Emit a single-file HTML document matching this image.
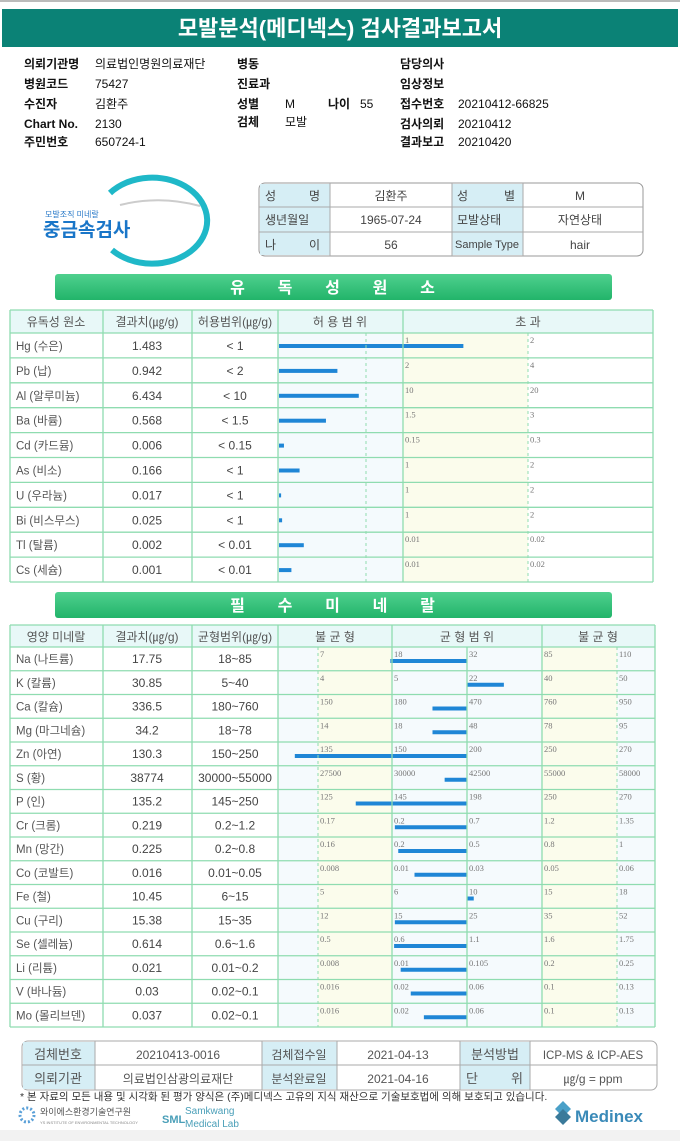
<!DOCTYPE html>
<html><head><meta charset="utf-8">
<style>
html,body{margin:0;padding:0;background:#fff;}
body{width:680px;height:1141px;overflow:hidden;position:relative;font-family:"Liberation Sans","Noto Sans CJK KR",sans-serif;}
svg text{font-family:"Liberation Sans","Noto Sans CJK KR",sans-serif;}
.tk{font-family:"Liberation Serif","Noto Serif CJK SC",serif;font-size:8.5px;fill:#777;}
</style></head>
<body>
<svg id="pg" width="680" height="1141" viewBox="0 0 680 1141" xmlns="http://www.w3.org/2000/svg">
<defs>
<linearGradient id="gb" x1="0" y1="0" x2="0" y2="1"><stop offset="0" stop-color="#4fd08e"/><stop offset="1" stop-color="#22b46a"/></linearGradient>
</defs>
<rect x="0" y="0" width="680" height="2" fill="#bbb"/>
<rect x="2" y="9" width="676" height="38" fill="#0b8276"/>
<text x="340" y="36" text-anchor="middle" font-size="22" font-weight="bold" fill="#fff">모발분석(메디넥스) 검사결과보고서</text>
<g font-size="12" fill="#111">
<text x="24" y="68" font-weight="bold">의뢰기관명</text><text x="95" y="68">의료법인명원의료재단</text>
<text x="24" y="88" font-weight="bold">병원코드</text><text x="95" y="88">75427</text>
<text x="24" y="108" font-weight="bold">수진자</text><text x="95" y="108">김환주</text>
<text x="24" y="128" font-weight="bold">Chart No.</text><text x="95" y="128">2130</text>
<text x="24" y="146" font-weight="bold">주민번호</text><text x="95" y="146">650724-1</text>
<text x="237" y="68" font-weight="bold">병동</text>
<text x="237" y="88" font-weight="bold">진료과</text>
<text x="237" y="108" font-weight="bold">성별</text><text x="285" y="108">M</text>
<text x="328" y="108" font-weight="bold">나이</text><text x="360" y="108">55</text>
<text x="237" y="126" font-weight="bold">검체</text><text x="285" y="126">모발</text>
<text x="400" y="68" font-weight="bold">담당의사</text>
<text x="400" y="88" font-weight="bold">임상정보</text>
<text x="400" y="108" font-weight="bold">접수번호</text><text x="458" y="108">20210412-66825</text>
<text x="400" y="128" font-weight="bold">검사의뢰</text><text x="458" y="128">20210412</text>
<text x="400" y="146" font-weight="bold">결과보고</text><text x="458" y="146">20210420</text>
</g>
<!-- logo -->
<g>
<path d="M110,193 A55,43 0 1 1 112,250" fill="none" stroke="#1fb8c8" stroke-width="6"/>
<path d="M120,205 Q160,195 200,206" fill="none" stroke="#ccc" stroke-width="2"/>
<text x="45" y="217" font-size="8" fill="#2a7ac8">모발조직 미네랄</text>
<text x="43" y="236" font-size="19" font-weight="bold" fill="#1a76c8">중금속검사</text>
</g>
<!-- info table -->
<g font-size="12" fill="#444">
<rect x="259" y="183" width="384" height="73" rx="6" fill="#fff" stroke="#999"/>
<rect x="260" y="184" width="70" height="71" fill="#d6eef5"/>
<rect x="452" y="184" width="71" height="71" fill="#d6eef5"/>
<line x1="259" y1="207" x2="643" y2="207" stroke="#aaa"/><line x1="259" y1="232" x2="643" y2="232" stroke="#aaa"/>
<line x1="330" y1="183" x2="330" y2="256" stroke="#aaa"/><line x1="452" y1="183" x2="452" y2="256" stroke="#aaa"/><line x1="523" y1="183" x2="523" y2="256" stroke="#aaa"/>
<text x="265" y="200">성</text><text x="320" y="200" text-anchor="end">명</text>
<text x="265" y="224">생년월일</text>
<text x="265" y="249">나</text><text x="320" y="249" text-anchor="end">이</text>
<text x="391" y="200" text-anchor="middle">김환주</text>
<text x="391" y="224" text-anchor="middle">1965-07-24</text>
<text x="391" y="249" text-anchor="middle">56</text>
<text x="457" y="200">성</text><text x="515" y="200" text-anchor="end">별</text>
<text x="457" y="224">모발상태</text>
<text x="455" y="248" font-size="11" font-family="Liberation Serif,serif">Sample Type</text>
<text x="580" y="200" text-anchor="middle">M</text>
<text x="580" y="224" text-anchor="middle">자연상태</text>
<text x="580" y="249" text-anchor="middle">hair</text>
</g>
<rect x="55" y="274" width="557" height="26" rx="3" fill="url(#gb)"/>
<text x="334" y="293" text-anchor="middle" font-size="16" font-weight="bold" fill="#fff" letter-spacing="3">유 &#160; &#160;독 &#160; &#160;성 &#160; &#160;원 &#160; &#160;소</text>
<rect x="55" y="592" width="557" height="26" rx="3" fill="url(#gb)"/>
<text x="334" y="611" text-anchor="middle" font-size="16" font-weight="bold" fill="#fff" letter-spacing="3">필 &#160; &#160;수 &#160; &#160;미 &#160; &#160;네 &#160; &#160;랄</text>
<g id="tox"></g>
<g id="min"></g>
<!-- footer table -->
<g font-size="12" fill="#555">
<rect x="22" y="1041" width="635" height="49" rx="6" fill="#fff" stroke="#aaa"/>
<rect x="23" y="1042" width="72" height="47" fill="#d6eef5"/>
<rect x="262" y="1042" width="75" height="47" fill="#d6eef5"/>
<rect x="460" y="1042" width="70" height="47" fill="#d6eef5"/>
<line x1="22" y1="1065" x2="657" y2="1065" stroke="#aaa"/>
<line x1="95" y1="1041" x2="95" y2="1090" stroke="#aaa"/><line x1="262" y1="1041" x2="262" y2="1090" stroke="#aaa"/>
<line x1="337" y1="1041" x2="337" y2="1090" stroke="#aaa"/><line x1="460" y1="1041" x2="460" y2="1090" stroke="#aaa"/>
<line x1="530" y1="1041" x2="530" y2="1090" stroke="#aaa"/>
<text x="58" y="1059" text-anchor="middle" font-size="13">검체번호</text>
<text x="58" y="1083" text-anchor="middle" font-size="13">의뢰기관</text>
<text x="178" y="1059" text-anchor="middle">20210413-0016</text>
<text x="178" y="1083" text-anchor="middle">의료법인삼광의료재단</text>
<text x="299" y="1059" text-anchor="middle">검체접수일</text>
<text x="299" y="1083" text-anchor="middle">분석완료일</text>
<text x="398" y="1059" text-anchor="middle">2021-04-13</text>
<text x="398" y="1083" text-anchor="middle">2021-04-16</text>
<text x="495" y="1059" text-anchor="middle" font-size="13">분석방법</text>
<text x="466" y="1083" font-size="13">단</text><text x="523" y="1083" text-anchor="end" font-size="13">위</text>
<text x="593" y="1059" text-anchor="middle" font-size="11.5">ICP-MS &amp; ICP-AES</text>
<text x="593" y="1083" text-anchor="middle">㎍/g = ppm</text>
</g>
<text x="20" y="1100" font-size="10.5" fill="#333">* 본 자료의 모든 내용 및 시각화 된 평가 양식은 (주)메디넥스 고유의 지식 재산으로 기술보호법에 의해 보호되고 있습니다.</text>
<g>
<circle cx="27" cy="1115" r="7" fill="none" stroke="#5aa0d8" stroke-width="3" stroke-dasharray="2 2"/>
<text x="40" y="1115" font-size="9" fill="#555">와이에스환경기술연구원</text>
<text x="40" y="1124" font-size="4" fill="#888">YS INSTITUTE OF ENVIRONMENTAL TECHNOLOGY</text>
<text x="162" y="1123" font-size="11" font-weight="bold" fill="#4a9fb8">SML</text>
<text x="185" y="1114" font-size="10" fill="#4a9fb8">Samkwang</text>
<text x="185" y="1127" font-size="10" fill="#4a9fb8">Medical Lab</text>
<polygon points="555,1109 563,1101 571,1109 563,1117" fill="#4aa0c8"/>
<polygon points="555,1117 563,1109 571,1117 563,1125" fill="#3a7a9a"/>
<text x="575" y="1122" font-size="17" font-weight="bold" fill="#3a8ab8">Medinex</text>
</g>
<rect x="0" y="1130" width="680" height="11" fill="#f2f2f2"/>
</svg>
<script>
// toxic data
const toxNames=["Hg (수은)","Pb (납)","Al (알루미늄)","Ba (바륨)","Cd (카드뮴)","As (비소)","U (우라늄)","Bi (비스무스)","Tl (탈륨)","Cs (세슘)"];
const toxValues=[1.483,0.942,6.434,0.568,0.006,0.166,0.017,0.025,0.002,0.001];
const toxLimits=[1,2,10,1.5,0.15,1,1,1,0.01,0.01];
const toxLimitLabels=["1","2","10","1.5","0.15","1","1","1","0.01","0.01"];
const toxDoubleLabels=["2","4","20","3","0.3","2","2","2","0.02","0.02"];
// mineral data
const minNames=["Na (나트륨)","K (칼륨)","Ca (칼슘)","Mg (마그네슘)","Zn (아연)","S (황)","P (인)","Cr (크롬)","Mn (망간)","Co (코발트)","Fe (철)","Cu (구리)","Se (셀레늄)","Li (리튬)","V (바나듐)","Mo (몰리브덴)"];
const minValues=[17.75,30.85,336.5,34.2,130.3,38774,135.2,0.219,0.225,0.016,10.45,15.38,0.614,0.021,0.03,0.037];
const minRanges=["18~85","5~40","180~760","18~78","150~250","30000~55000","145~250","0.2~1.2","0.2~0.8","0.01~0.05","6~15","15~35","0.6~1.6","0.01~0.2","0.02~0.1","0.02~0.1"];
const minTicks=[[7,18,32,85,110],[4,5,22,40,50],[150,180,470,760,950],[14,18,48,78,95],[135,150,200,250,270],[27500,30000,42500,55000,58000],[125,145,198,250,270],[0.17,0.2,0.7,1.2,1.35],[0.16,0.2,0.5,0.8,1],[0.008,0.01,0.03,0.05,0.06],[5,6,10,15,18],[12,15,25,35,52],[0.5,0.6,1.1,1.6,1.75],[0.008,0.01,0.105,0.2,0.25],[0.016,0.02,0.06,0.1,0.13],[0.016,0.02,0.06,0.1,0.13]];

const NS="http://www.w3.org/2000/svg";
function mk(p,tag,at,txt){const e=document.createElementNS(NS,tag);for(const k in at)e.setAttribute(k,at[k]);if(txt!==undefined)e.textContent=txt;p.appendChild(e);return e;}
const GL="#8fdcb0";

// toxic table
const tox=document.getElementById('tox');
const tY0=310,tH=23,tRY=333,tRH=24.9,tN=toxNames.length,tEnd=tRY+tRH*tN;
const tX0=279,tXL=403,tX2=528;
function toxX(v,lim){return v<=lim? tX0+(tXL-tX0)*v/lim : tXL+(tX2-tXL)*(v-lim)/lim;}
mk(tox,'rect',{x:10,y:tY0,width:643,height:tH,fill:"#e8f8f8"});
mk(tox,'rect',{x:278,y:tRY,width:125,height:tEnd-tRY,fill:"#f4fafd"});
mk(tox,'rect',{x:403,y:tRY,width:125,height:tEnd-tRY,fill:"#fbfcec"});
[["유독성 원소",56],["결과치(㎍/g)",147],["허용범위(㎍/g)",235],["허 용 범 위",340],["초          과",528]].forEach(h=>{
  const t=mk(tox,'text',{x:h[1],y:tY0+16,"text-anchor":"middle","font-size":12,fill:"#555"},h[0]);
  
  
});
for(let i=0;i<tN;i++){
  const y=tRY+tRH*i;
  const r=mk(tox,'g',{});
  
  
  mk(r,'text',{x:16,y:y+17,"font-size":11.5,fill:"#555"},toxNames[i]);
  mk(r,'text',{x:147,y:y+17,"text-anchor":"middle","font-size":12,fill:"#444"},String(toxValues[i]));
  mk(r,'text',{x:235,y:y+17,"text-anchor":"middle","font-size":12,fill:"#444"},"< "+toxLimitLabels[i]);
  mk(r,'text',{x:tXL+2,y:y+10,class:"tk"},toxLimitLabels[i]);
  mk(r,'text',{x:tX2+2,y:y+10,class:"tk"},toxDoubleLabels[i]);
  const b=mk(r,'rect',{x:tX0,y:y+11,width:Math.max(2,toxX(toxValues[i],toxLimits[i])-tX0),height:4,fill:"#1f86d6"});
  
  
}
for(let i=0;i<=tN;i++){const y=tRY+tRH*i;mk(tox,'line',{x1:10,y1:y,x2:653,y2:y,stroke:GL,"stroke-width":1.3});}
mk(tox,'line',{x1:10,y1:tY0,x2:653,y2:tY0,stroke:GL,"stroke-width":1.3});
[10,103,192,278,403,653].forEach(x=>mk(tox,'line',{x1:x,y1:tY0,x2:x,y2:tEnd,stroke:GL,"stroke-width":1.3}));
[366,528].forEach(x=>mk(tox,'line',{x1:x,y1:tRY,x2:x,y2:tEnd,stroke:GL,"stroke-dasharray":"3 3"}));

// mineral table
const mn=document.getElementById('min');
const mY0=625,mRY=647,mRH=23.75,mN=minNames.length,mEnd=mRY+mRH*mN;
const mTX=[318,392,467,542,617];
function minX(v,t){
  let k=0; if(v<t[0])k=0; else if(v>=t[4])k=3; else {for(k=0;k<3;k++) if(v<t[k+1])break;}
  return mTX[k]+(mTX[k+1]-mTX[k])*(v-t[k])/(t[k+1]-t[k]);
}
mk(mn,'rect',{x:10,y:mY0,width:645,height:mRY-mY0,fill:"#e8f8f8"});
mk(mn,'rect',{x:278,y:mRY,width:377,height:mEnd-mRY,fill:"#f5fafd"});
mk(mn,'rect',{x:318,y:mRY,width:74,height:mEnd-mRY,fill:"#fbfcec"});
mk(mn,'rect',{x:542,y:mRY,width:75,height:mEnd-mRY,fill:"#fbfcec"});
[["영양 미네랄",56],["결과치(㎍/g)",147],["균형범위(㎍/g)",235],["불  균  형",335],["균  형  범  위",467],["불  균  형",598]].forEach(h=>{
  const t=mk(mn,'text',{x:h[1],y:mY0+16,"text-anchor":"middle","font-size":12,fill:"#555"},h[0]);
  
  
});
for(let i=0;i<mN;i++){
  const y=mRY+mRH*i;
  const r=mk(mn,'g',{});
  
  
  mk(r,'text',{x:16,y:y+16,"font-size":11.5,fill:"#555"},minNames[i]);
  mk(r,'text',{x:147,y:y+16,"text-anchor":"middle","font-size":12,fill:"#444"},String(minValues[i]));
  mk(r,'text',{x:235,y:y+16,"text-anchor":"middle","font-size":12,fill:"#444"},minRanges[i]);
  for(let k=0;k<5;k++) mk(r,'text',{x:mTX[k]+2,y:y+10,class:"tk"},String(minTicks[i][k]));
  const vx=minX(minValues[i],minTicks[i]);
  const x1=Math.min(vx,467),x2=Math.max(vx,467);
  const b=mk(r,'rect',{x:x1,y:y+12,width:Math.max(1.5,x2-x1),height:4,fill:"#1f86d6"});
  
  
}
for(let i=0;i<=mN;i++){const y=mRY+mRH*i;mk(mn,'line',{x1:10,y1:y,x2:655,y2:y,stroke:GL,"stroke-width":1.3});}
mk(mn,'line',{x1:10,y1:mY0,x2:655,y2:mY0,stroke:GL,"stroke-width":1.3});
[10,103,192,278,392,467,542,655].forEach(x=>mk(mn,'line',{x1:x,y1:(x==467?mRY:mY0),x2:x,y2:mEnd,stroke:GL,"stroke-width":1.3}));
[318,617].forEach(x=>mk(mn,'line',{x1:x,y1:mRY,x2:x,y2:mEnd,stroke:GL,"stroke-dasharray":"3 3"}));
</script>
</body></html>
